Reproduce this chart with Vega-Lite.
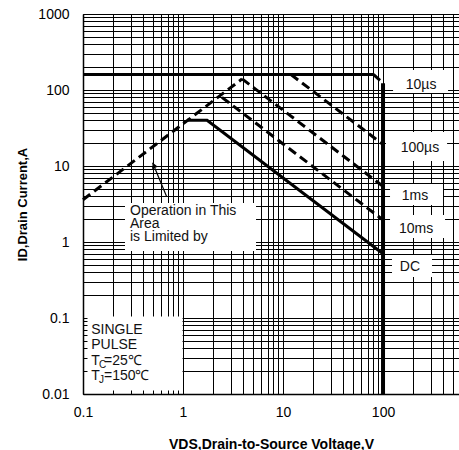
{
  "$schema": "https://vega.github.io/schema/vega-lite/v6.json",
  "width": 376,
  "height": 380,
  "autosize": {"type": "none"},
  "padding": {"left": 83, "top": 14, "right": 0, "bottom": 56},
  "background": "white",
  "config": {
    "view": {"stroke": null},
    "font": "Liberation Sans",
    "axis": {"labelFont": "Liberation Sans", "titleFont": "Liberation Sans"}
  },
  "datasets": {
    "curves": [
      {"c": "10µs", "V": 0.1, "I": 160},
      {"c": "10µs", "V": 80, "I": 160},
      {"c": "10µs knee", "V": 80, "I": 160},
      {"c": "10µs knee", "V": 100, "I": 123},
      {"c": "VDSS", "V": 100, "I": 123},
      {"c": "VDSS", "V": 100, "I": 0.01},
      {"c": "RDS(on)", "V": 0.1, "I": 3.6},
      {"c": "RDS(on)", "V": 3.9, "I": 140},
      {"c": "100µs", "V": 12, "I": 160},
      {"c": "100µs", "V": 100, "I": 19.2},
      {"c": "1ms", "V": 3.9, "I": 140},
      {"c": "1ms", "V": 100, "I": 5.4},
      {"c": "10ms", "V": 2.45, "I": 80},
      {"c": "10ms", "V": 100, "I": 1.95},
      {"c": "DC", "V": 1.1, "I": 40},
      {"c": "DC", "V": 1.74, "I": 40},
      {"c": "DC", "V": 100, "I": 0.7}
    ],
    "boxes": [
      {"b": "note", "V": 0.263, "V2": 5.37, "I": 3.26, "I2": 0.76},
      {"b": "pulse", "V": 0.1, "V2": 0.99, "I": 0.01, "I2": 0.105},
      {"b": "10µs", "V": 126, "V2": 447, "I": 183, "I2": 91},
      {"b": "100µs", "V": 107, "V2": 437, "I": 28, "I2": 11.6},
      {"b": "1ms", "V": 117.5, "V2": 398, "I": 5.8, "I2": 3.07},
      {"b": "10ms", "V": 117.5, "V2": 417, "I": 2.26, "I2": 1.13},
      {"b": "DC", "V": 123, "V2": 309, "I": 0.675, "I2": 0.346}
    ],
    "notes": [
      {"t": "Operation in This", "V": 0.295, "I": 2.26},
      {"t": "Area", "V": 0.295, "I": 1.53},
      {"t": "is Limited by", "V": 0.295, "I": 1.03},
      {"t": "SINGLE", "V": 0.121, "I": 0.0611},
      {"t": "PULSE", "V": 0.121, "I": 0.0387},
      {"t": "T", "V": 0.121, "I": 0.0241},
      {"t": "=25℃", "V": 0.162, "I": 0.0241},
      {"t": "T", "V": 0.121, "I": 0.01528},
      {"t": "=150℃", "V": 0.162, "I": 0.01528}
    ],
    "subs": [
      {"t": "C", "V": 0.1445, "I": 0.0223},
      {"t": "J", "V": 0.1445, "I": 0.01416}
    ],
    "labels": [
      {"t": "10µs", "V": 240, "I": 102},
      {"t": "100µs", "V": 234, "I": 15.4},
      {"t": "1ms", "V": 209, "I": 3.57},
      {"t": "10ms", "V": 214, "I": 1.32},
      {"t": "DC", "V": 186, "I": 0.415}
    ],
    "arrow": [
      {"V": 0.687, "I": 3.94, "V2": 0.497, "I2": 11.0}
    ],
    "arrowhead": [
      {"V": 0.511, "I": 10.2}
    ]
  },
  "resolve": {"axis": {"x": "independent", "y": "independent"}},
  "layer": [
    {
      "data": {"name": "boxes"},
      "mark": {"type": "rect", "fill": "white", "stroke": null},
      "encoding": {
        "x": {
          "field": "V", "type": "quantitative",
          "scale": {"type": "log", "domain": [0.1, 575], "nice": false},
          "axis": {
            "orient": "bottom", "grid": true, "domain": false, "labels": false, "ticks": false,
            "title": null, "zindex": 0, "gridColor": "#000", "gridWidth": 1, "gridOpacity": 1,
            "values": [0.1,0.2,0.3,0.4,0.5,0.6,0.7,0.8,0.9,1,2,3,4,5,6,7,8,9,10,20,30,40,50,60,70,80,90,100,200,300,400,500]
          }
        },
        "x2": {"field": "V2"},
        "y": {
          "field": "I", "type": "quantitative",
          "scale": {"type": "log", "domain": [0.01, 1000], "nice": false},
          "axis": {
            "orient": "left", "grid": true, "domain": false, "labels": false, "ticks": false,
            "title": null, "zindex": 0, "gridColor": "#000", "gridWidth": 1, "gridOpacity": 1,
            "values": [0.01,0.02,0.03,0.04,0.05,0.06,0.07,0.08,0.09,0.1,0.2,0.3,0.4,0.5,0.6,0.7,0.8,0.9,1,2,3,4,5,6,7,8,9,10,20,30,40,50,60,70,80,90,100,200,300,400,500,600,700,800,900,1000]
          }
        },
        "y2": {"field": "I2"}
      }
    },
    {
      "data": {"name": "curves"},
      "transform": [{"filter": "datum.c === '10µs' || datum.c === 'DC'"}],
      "mark": {"type": "line", "color": "#000", "strokeWidth": 3, "strokeCap": "butt"},
      "encoding": {
        "x": {
          "field": "V", "type": "quantitative",
          "scale": {"type": "log", "domain": [0.1, 575], "nice": false},
          "axis": {
            "orient": "bottom", "grid": false, "zindex": 1, "domain": true, "domainColor": "#000", "domainWidth": 1.5,
            "ticks": true, "tickSize": -4, "tickColor": "#000", "tickWidth": 1,
            "labelPadding": 15, "labelFontSize": 14, "labelColor": "#000", "labelFlush": false,
            "values": [0.1,0.2,0.3,0.4,0.5,0.6,0.7,0.8,0.9,1,2,3,4,5,6,7,8,9,10,20,30,40,50,60,70,80,90,100,200,300,400,500],
            "labelExpr": "indexof([0.1,1,10,100], datum.value) >= 0 ? format(datum.value, '~g') : ''",
            "title": "VDS,Drain-to-Source Voltage,V", "titleFontSize": 14, "titleFontWeight": "bold", "titleColor": "#000",
            "titleBaseline": "alphabetic", "titleY": 54
          }
        },
        "y": {
          "field": "I", "type": "quantitative",
          "scale": {"type": "log", "domain": [0.01, 1000], "nice": false},
          "axis": {
            "orient": "left", "grid": false, "zindex": 1, "domain": true, "domainColor": "#000", "domainWidth": 1.5,
            "ticks": true, "tickSize": -4, "tickColor": "#000", "tickWidth": 1,
            "labelPadding": 18, "labelFontSize": 14, "labelColor": "#000", "labelFlush": false,
            "values": [0.01,0.02,0.03,0.04,0.05,0.06,0.07,0.08,0.09,0.1,0.2,0.3,0.4,0.5,0.6,0.7,0.8,0.9,1,2,3,4,5,6,7,8,9,10,20,30,40,50,60,70,80,90,100,200,300,400,500,600,700,800,900,1000],
            "labelExpr": "indexof([0.01,0.1,1,10,100,1000], datum.value) >= 0 ? format(datum.value, '~g') : ''",
            "title": "ID,Drain Current,A", "titleFontSize": 13, "titleFontWeight": "bold", "titleColor": "#000",
            "titleBaseline": "middle", "titleX": -61
          }
        },
        "detail": {"field": "c"}
      }
    },
    {
      "data": {"name": "curves"},
      "transform": [{"filter": "datum.c === 'VDSS'"}],
      "mark": {"type": "line", "color": "#000", "strokeWidth": 4, "strokeCap": "butt"},
      "encoding": {
        "x": {"field": "V", "type": "quantitative", "axis": null},
        "y": {"field": "I", "type": "quantitative", "axis": null},
        "detail": {"field": "c"}
      }
    },
    {
      "data": {"name": "curves"},
      "transform": [{"filter": "datum.c !== '10µs' && datum.c !== 'DC' && datum.c !== 'VDSS'"}],
      "mark": {"type": "line", "color": "#000", "strokeWidth": 3, "strokeDash": [9, 5], "strokeCap": "butt"},
      "encoding": {
        "x": {"field": "V", "type": "quantitative", "axis": null},
        "y": {"field": "I", "type": "quantitative", "axis": null},
        "detail": {"field": "c"}
      }
    },
    {
      "data": {"name": "arrow"},
      "mark": {"type": "rule", "color": "#000", "strokeWidth": 1.2},
      "encoding": {
        "x": {"field": "V", "type": "quantitative", "axis": null},
        "y": {"field": "I", "type": "quantitative", "axis": null},
        "x2": {"field": "V2"},
        "y2": {"field": "I2"}
      }
    },
    {
      "data": {"name": "arrowhead"},
      "mark": {"type": "point", "shape": "triangle-up", "filled": true, "color": "#000", "size": 40, "angle": 338, "opacity": 1},
      "encoding": {
        "x": {"field": "V", "type": "quantitative", "axis": null},
        "y": {"field": "I", "type": "quantitative", "axis": null}
      }
    },
    {
      "data": {"name": "notes"},
      "mark": {"type": "text", "align": "left", "baseline": "alphabetic", "fontSize": 14, "color": "#111", "font": "Liberation Sans"},
      "encoding": {
        "x": {"field": "V", "type": "quantitative", "axis": null},
        "y": {"field": "I", "type": "quantitative", "axis": null},
        "text": {"field": "t"}
      }
    },
    {
      "data": {"name": "subs"},
      "mark": {"type": "text", "align": "left", "baseline": "alphabetic", "fontSize": 10, "color": "#111", "font": "Liberation Sans"},
      "encoding": {
        "x": {"field": "V", "type": "quantitative", "axis": null},
        "y": {"field": "I", "type": "quantitative", "axis": null},
        "text": {"field": "t"}
      }
    },
    {
      "data": {"name": "labels"},
      "mark": {"type": "text", "align": "center", "baseline": "alphabetic", "fontSize": 14, "color": "#111", "font": "Liberation Sans"},
      "encoding": {
        "x": {"field": "V", "type": "quantitative", "axis": null},
        "y": {"field": "I", "type": "quantitative", "axis": null},
        "text": {"field": "t"}
      }
    }
  ]
}
